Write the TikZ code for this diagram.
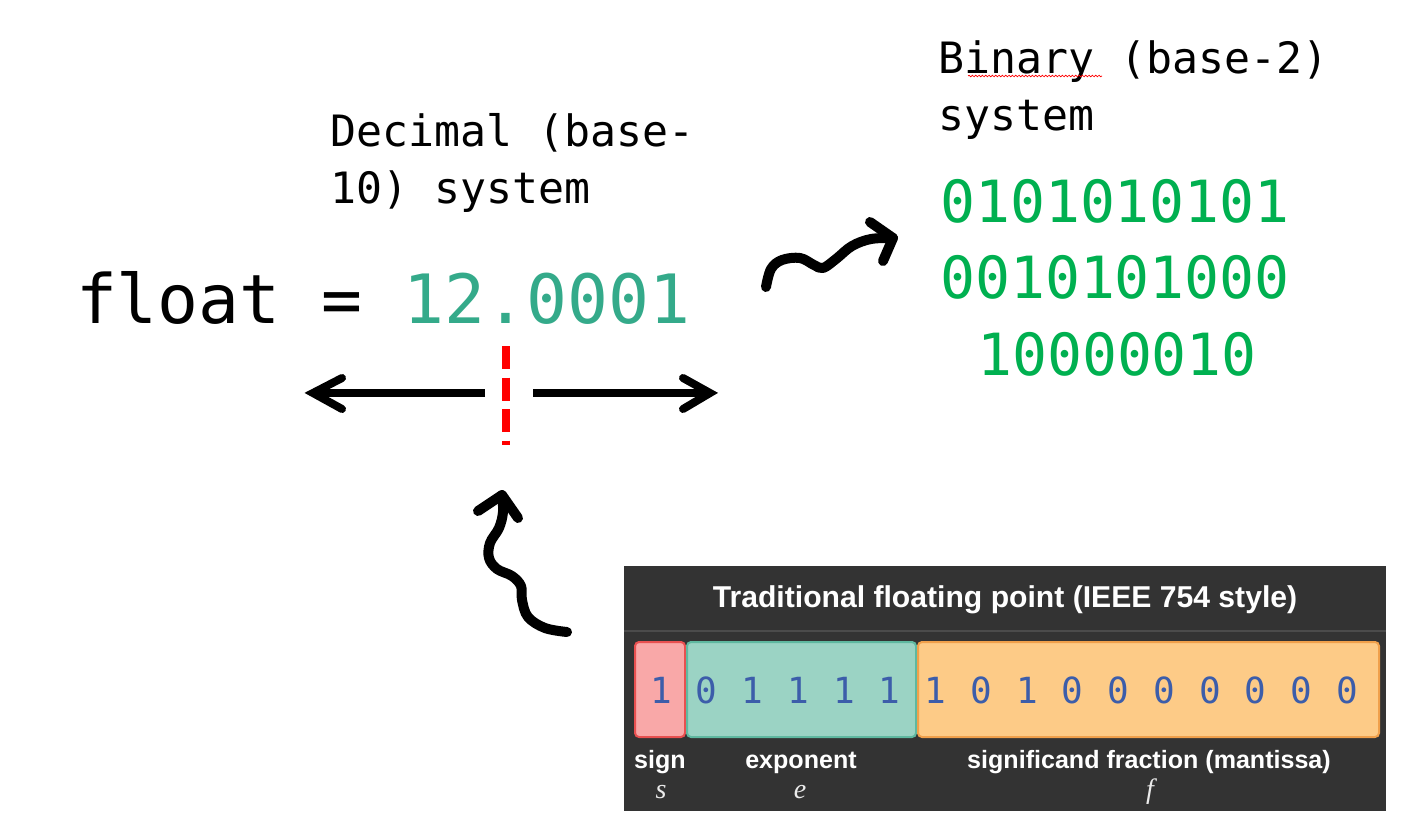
\documentclass[tikz,border=0pt]{standalone}
\usepackage{fontspec}
\usetikzlibrary{calc,decorations.pathmorphing}
\newfontfamily\monof{DejaVu Sans Mono}
\newfontfamily\sansf{Liberation Sans}
\newfontfamily\seriff{Liberation Serif}
\definecolor{tealnum}{RGB}{52,170,138}
\definecolor{greenbin}{RGB}{0,176,80}
\definecolor{bgdark}{RGB}{51,51,51}
\definecolor{sepline}{RGB}{75,75,75}
\definecolor{digblue}{RGB}{60,93,170}
\definecolor{signfill}{RGB}{249,168,168}
\definecolor{signdraw}{RGB}{232,80,80}
\definecolor{expfill}{RGB}{155,211,196}
\definecolor{expdraw}{RGB}{95,184,160}
\definecolor{manfill}{RGB}{253,203,135}
\definecolor{mandraw}{RGB}{240,160,75}
\tikzset{
  txt/.style={inner sep=0pt, outer sep=0pt, anchor=base west},
  ctxt/.style={inner sep=0pt, outer sep=0pt, anchor=base},
  thickline/.style={line width=6pt},
  headline/.style={line width=6pt, line cap=round, line join=miter},
  squig/.style={line width=7.5pt, line cap=round, line join=round},
  digit/.style={inner sep=0pt, anchor=base, text=digblue, font=\monof\fontsize{27pt}{30pt}\selectfont},
  lab/.style={inner sep=0pt, anchor=base, text=white, font=\sansf\bfseries\fontsize{18.8pt}{22pt}\selectfont},
  ilab/.style={inner sep=0pt, anchor=base, text=white!92!black, font=\seriff\itshape\fontsize{21pt}{24pt}\selectfont},
  fieldbox/.style={line width=1.5pt, rounded corners=3pt},
}
\begin{document}
\begin{tikzpicture}[x=0.75pt,y=-0.75pt]
\useasboundingbox (0,0) rectangle (1427,832);
\fill[white] (0,0) rectangle (1427,832);

% decimal label
\node[txt, font=\monof\fontsize{32.4pt}{40pt}\selectfont] (dec1) at (330,146) {Decimal (base-};
\node[txt, font=\monof\fontsize{32.4pt}{40pt}\selectfont] (dec2) at (330,203) {10) system};

% float
\node[txt, font=\monof\fontsize{51pt}{60pt}\selectfont] (float) at (76,323) {float = \textcolor{tealnum}{12.0001}};

% binary label
\node[txt, font=\monof\fontsize{32.4pt}{40pt}\selectfont] (bin1) at (938,73) {Binary (base-2)};
\node[txt, font=\monof\fontsize{32.4pt}{40pt}\selectfont] (bin2) at (938,130) {system};
\draw[red, line width=0.5pt, decorate, decoration={snake, amplitude=0.6pt, segment length=2.5pt}] (968,76) -- (1102,76);

% binary digits
\node[ctxt, text=greenbin, font=\monof\fontsize{43.6pt}{50pt}\selectfont] (b1) at (1115,222) {0101010101};
\node[ctxt, text=greenbin, font=\monof\fontsize{43.6pt}{50pt}\selectfont] (b2) at (1115,298) {0010101000};
\node[ctxt, text=greenbin, font=\monof\fontsize{43.6pt}{50pt}\selectfont] (b3) at (1117,375) {10000010};

% decimal point marker
\coordinate (mtop) at (506,346);
\coordinate (mbot) at (506,445);
\draw[red, line width=6pt, dash pattern=on 17.25pt off 6.4pt] (mtop) -- (mbot);

% left/right arrows
\coordinate (lstart) at (485,393);
\coordinate (ltip) at (313,393);
\coordinate (rstart) at (533,393);
\coordinate (rtip) at (710,393);
\draw[thickline] (lstart) -- (ltip);
\draw[headline] ($(ltip)+(29,-15)$) -- (ltip) -- ($(ltip)+(29,16)$);
\draw[thickline] (rstart) -- (rtip);
\draw[headline] ($(rtip)+(-27,-15)$) -- (rtip) -- ($(rtip)+(-27,16)$);

% bottom squiggle arrow
\coordinate (sqbstart) at (567,632);
\coordinate (sqbtip) at (502,495);
\draw[squig] plot[smooth, tension=0.6] coordinates {(sqbstart) (545,628) (528,617) (522,600) (521,586) (512,576) (497,569) (489,558) (490,543) (499,528) (503,512) (sqbtip)};
\draw[squig] (478,511) -- (sqbtip) -- (518,518);

% right squiggle arrow
\coordinate (sqrstart) at (766,287);
\coordinate (sqrtip) at (893,238);
\draw[squig] plot[smooth, tension=0.6] coordinates {(sqrstart) (771,269) (782,260) (800,258) (814,265) (823,268) (836,259) (852,246) (871,239) (sqrtip)};
\draw[squig] (870,222) -- (sqrtip) -- (883,261);

% IEEE panel
\fill[bgdark] (624,566) rectangle (1386,811);
\draw[sepline, line width=1.2pt] (624,631) -- (1386,631);
\node[ctxt, text=white, font=\sansf\bfseries\fontsize{22.6pt}{26pt}\selectfont] (title) at (1005,607) {Traditional floating point (IEEE 754 style)};
\draw[fieldbox, fill=signfill, draw=signdraw] (635,642) rectangle (685,737);
\draw[fieldbox, fill=expfill, draw=expdraw] (687,642) rectangle (916,737);
\draw[fieldbox, fill=manfill, draw=mandraw] (918,642) rectangle (1379,737);
\foreach \d [count=\i from 0] in {1,0,1,1,1,1,1,0,1,0,0,0,0,0,0,0}
  \node[digit] (d\i) at (661+45.75*\i,703) {\d};
\node[lab] (lsign) at (660,768) {sign};
\node[lab] (lexp) at (801,768) {exponent};
\node[lab] (lman) at (1149,768) {significand fraction (mantissa)};
\node[ilab] (is) at (661,798) {s};
\node[ilab] (ie) at (800,798) {e};
\node[ilab] (if) at (1150,798) {f};
\end{tikzpicture}
\end{document}
